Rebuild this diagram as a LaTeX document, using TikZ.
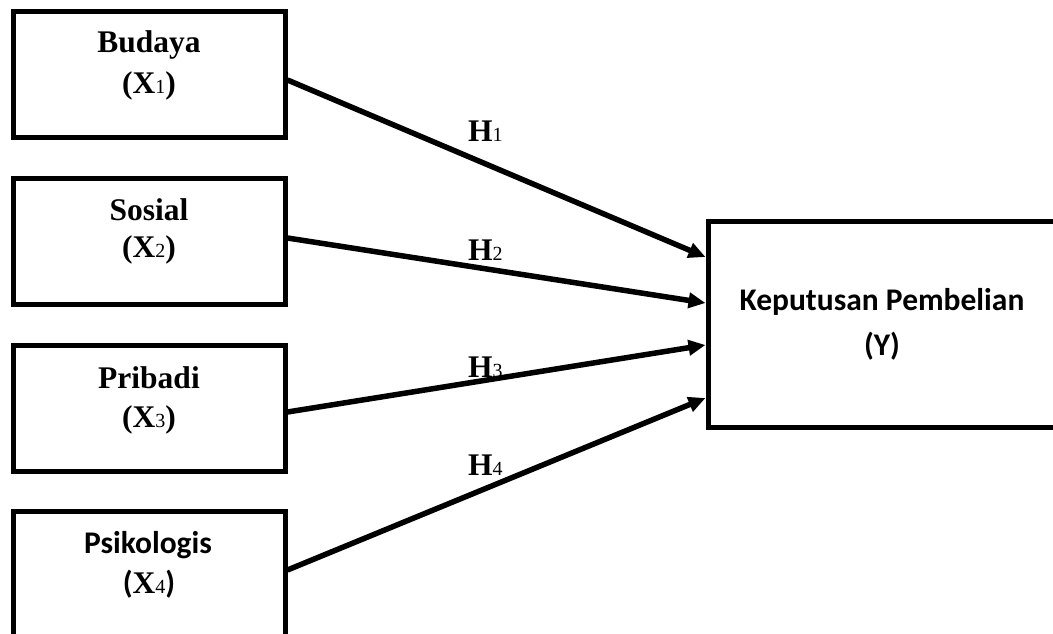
\documentclass[tikz,border=0pt]{standalone}
\usepackage{fontspec}
\setmainfont{Liberation Serif}
\newfontfamily\calib{Carlito}
\usetikzlibrary{arrows.meta}
\newcommand{\sbx}[1]{{\fontsize{20}{20}\selectfont\mdseries #1}}
\begin{document}
\begin{tikzpicture}[x=1pt,y=-1pt,
  box/.style={draw, line width=5pt, rectangle, inner sep=0pt},
  lbox/.style={box, minimum width=271.5pt, minimum height=126pt},
  conn/.style={line width=5.5pt, -{Triangle[length=17pt,width=15pt]}},
  txt/.style={anchor=base, inner sep=0pt, font=\fontsize{31.5}{31.5}\selectfont\bfseries},
  hl/.style={anchor=base west, inner sep=0pt, font=\fontsize{31.5}{31.5}\selectfont\bfseries}]
\useasboundingbox (0,0) rectangle (1053,634);
% boxes
\node[lbox] (budaya) at (149.25,74.5) {};
\node[lbox] (sosial) at (149.25,241) {};
\node[lbox] (pribadi) at (149.25,408.5) {};
\node[lbox] (psiko) at (149.25,574) {};
\node[box, minimum width=348pt, minimum height=206pt] (kp) at (882,324) {};
% box texts
\node[txt] (t1a) at (149,53) {Budaya};
\node[txt] (t1b) at (149,93) {(X\sbx{1})};
\node[txt] (t2a) at (149,220.5) {Sosial};
\node[txt] (t2b) at (149,257) {(X\sbx{2})};
\node[txt] (t3a) at (149,388) {Pribadi};
\node[txt] (t3b) at (149,427) {(X\sbx{3})};
\node[txt] (t4a) at (148,553) {\calib Psikologis};
\node[txt] (t4b) at (149,593) {{\calib(}X\sbx{4}{\calib)}};
\node[txt] (tya) at (882,310) {\calib Keputusan Pembelian};
\node[txt] (tyb) at (882,355) {\calib (Y)};
% connectors
\draw[conn] ([yshift=-5.5pt]budaya.east) -- ([yshift=67pt]kp.west);
\draw[conn] ([yshift=3pt]sosial.east) -- ([yshift=21pt]kp.west);
\draw[conn] ([yshift=-3.5pt]pribadi.east) -- ([yshift=-21pt]kp.west);
\draw[conn] ([yshift=4pt]psiko.east) -- ([yshift=-74pt]kp.west);
% hypothesis labels
\node[hl] (h1) at (468,142) {H\sbx{1}};
\node[hl] (h2) at (468,260) {H\sbx{2}};
\node[hl] (h3) at (468,377) {H\sbx{3}};
\node[hl] (h4) at (468,475) {H\sbx{4}};
\end{tikzpicture}
\end{document}
